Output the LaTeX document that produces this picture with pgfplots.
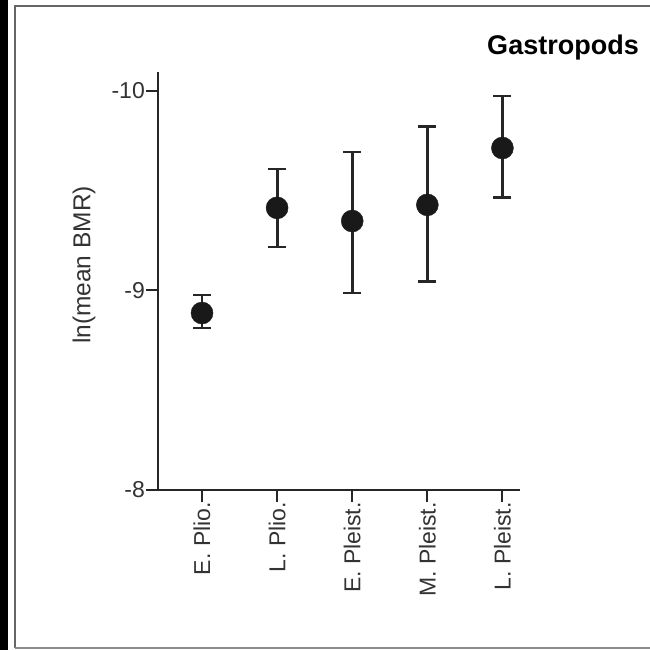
\documentclass[border=0pt]{standalone}
\usepackage{pgfplots}
\pgfplotsset{compat=1.18}
\usepackage{pgfplotstable}
\usepackage{fontspec}
\setmainfont{Liberation Sans}
\pgfplotstableread{
x y ep em
0 -8.887 0.075 0.090
1 -9.414 0.196 0.195
2 -9.348 0.361 0.346
3 -9.429 0.386 0.391
4 -9.714 0.250 0.261
}\gastro
\begin{document}
\begin{tikzpicture}[x=1pt,y=1pt]
\useasboundingbox (0,0) rectangle (650,650);
\fill[white] (0,0) rectangle (650,650);
\fill[black] (0,0) rectangle (8,650);
\draw[black!60, line width=2.5pt] (15,2) -- (15,644) -- (660,644);
\draw[black!45, line width=2pt] (15,2) -- (660,2);
\begin{axis}[
  at={(158pt,160pt)}, anchor=south west,
  scale only axis, width=362pt, height=418pt,
  xmin=-0.586, xmax=4.234,
  ymin=-10.095, ymax=-8,
  y dir=reverse,
  axis x line=bottom, axis y line=left,
  axis line style={-, line width=2pt, black!85},
  xtick={0,1,2,3,4},
  xticklabels={E. Plio., L. Plio., E. Pleist., M. Pleist., L. Pleist.},
  ytick={-10,-9,-8},
  yticklabels={-10,-9,-8},
  tick align=outside,
  major tick length=12pt,
  tick style={line width=2pt, black!85},
  ticklabel style={font=\fontsize{23}{27}\selectfont, text=black!80},
  xticklabel style={rotate=90, anchor=east, inner sep=0pt},
  yticklabel style={inner sep=1pt},
  clip=false,
]
\addplot[only marks, mark=*, mark size=11pt, mark options={fill=black!90, draw=black!90},
  error bars/.cd, y dir=both, y explicit,
  error bar style={line width=2.8pt, black!85},
  error mark options={rotate=90, mark size=9pt, line width=2.8pt, black!85}]
  table[x=x, y=y, y error plus=ep, y error minus=em]{\gastro};
\end{axis}
\node[rotate=90, font=\fontsize{24.5}{28}\selectfont, text=black!80] at (84,385) {ln(mean BMR)};
\node[anchor=base, font=\fontsize{27}{32}\selectfont\bfseries] at (563,595) {Gastropods};
\end{tikzpicture}
\end{document}
